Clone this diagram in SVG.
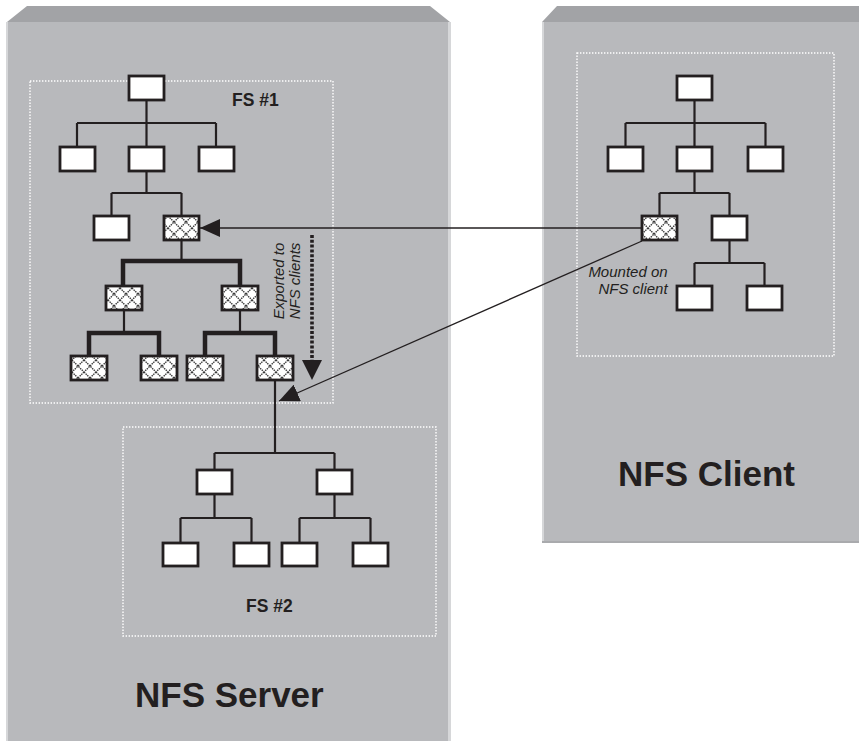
<svg xmlns="http://www.w3.org/2000/svg" width="859" height="741" viewBox="0 0 859 741">
<defs>
<pattern id="hatch" patternUnits="userSpaceOnUse" width="12" height="12">
<rect width="12" height="12" fill="#fff"/>
<path d="M0,0 L12,12 M12,0 L0,12" stroke="#3a3a3a" stroke-width="1.4" stroke-dasharray="1.5,0.8"/>
</pattern>
<marker id="ah" markerUnits="userSpaceOnUse" viewBox="0 0 20 18" refX="20" refY="9" markerWidth="20" markerHeight="18" orient="auto">
<path d="M0,0 L20,9 L0,18 z" fill="#231f20"/>
</marker>
</defs>
<style>
.body{fill:#b8b9bc}
.bevel{fill:#a2a3a6}
.strip{fill:#d6d7d9}
.frame{fill:none;stroke:#fff;stroke-width:1.4;stroke-dasharray:1.4,1.6}
.box{fill:#fff;stroke:#231f20;stroke-width:2.8}
.hbox{fill:url(#hatch);stroke:#231f20;stroke-width:2.8}
.thin{fill:none;stroke:#231f20;stroke-width:2.2}
.thick{fill:none;stroke:#231f20;stroke-width:4.5}
.conn{fill:none;stroke:#231f20;stroke-width:1.3}
.dots{fill:none;stroke:#231f20;stroke-width:3.6;stroke-dasharray:3,1.8}
.head{fill:#231f20}
.lbl{font-family:"Liberation Sans",Arial,sans-serif;fill:#231f20}
.big{font-size:35px;font-weight:bold}
.fs{font-size:17.5px;font-weight:bold}
.it{font-size:15px;font-style:italic}
</style>

<g id="nfs-server">
<rect class="body" x="6" y="22" width="445" height="719"/>
<polygon class="bevel" points="7,22 27,6 430,6 450,22"/>
<rect class="strip" x="6" y="22" width="2" height="719"/>
<rect class="strip" x="448" y="22" width="3" height="719"/>
<text class="lbl big" x="135" y="707">NFS Server</text>
</g>

<g id="nfs-client">
<rect class="body" x="542" y="22" width="317" height="521"/>
<polygon class="bevel" points="542,22 557,6 859,6 859,22"/>
<rect class="strip" x="542" y="22" width="2" height="521"/>
<rect x="542" y="541" width="317" height="2" fill="#a9aaad"/>
<text class="lbl big" x="618" y="486">NFS Client</text>
</g>

<g id="fs1">
<rect class="frame" x="30" y="81" width="303" height="322"/>
<text class="lbl fs" x="232" y="106">FS #1</text>
</g>
<g id="fs2">
<rect class="frame" x="123" y="427" width="313" height="209"/>
<text class="lbl fs" x="246" y="612">FS #2</text>
</g>
<g id="client-fs">
<rect class="frame" x="577" y="53" width="257" height="303"/>
</g>

<g id="connectors">
<path class="thin" d="M146.5,100 V123 M77,123 H216 M77,123 V147 M146.5,123 V147 M216,123 V147"/>
<path class="thin" d="M146.5,171 V193 M111.5,193 H181.5 M111.5,193 V216 M181.5,193 V216"/>
<path class="thin" d="M181.5,240 V261 M124,310 V333 M240,310 V333"/>
<path class="thick" d="M123,286 V261 H240 V286"/>
<path class="thick" d="M89,356 V333 H159 V356"/>
<path class="thick" d="M205,356 V333 H275 V356"/>
<path class="thin" d="M275,380 V453"/>
<path class="thin" d="M214.5,453 H334.5 M214.5,453 V470 M334.5,453 V470"/>
<path class="thin" d="M214.5,494 V518 M180.5,518 H251.5 M180.5,518 V543 M251.5,518 V543"/>
<path class="thin" d="M334.5,494 V518 M299.5,518 H370.5 M299.5,518 V543 M370.5,518 V543"/>
<path class="thin" d="M694.5,100 V123 M625.5,123 H765.5 M625.5,123 V147 M694.5,123 V147 M765.5,123 V147"/>
<path class="thin" d="M694.5,171 V193 M659.5,193 H729.5 M659.5,193 V216 M729.5,193 V216"/>
<path class="thin" d="M729.5,240 V263 M694.5,263 H764.5 M694.5,263 V286 M764.5,263 V286"/>
<line class="conn" x1="642" y1="228" x2="200" y2="228" marker-end="url(#ah)"/>
<line class="conn" x1="642" y1="241" x2="279" y2="401" marker-end="url(#ah)"/>
<line class="dots" x1="312" y1="235" x2="312" y2="362"/>
<polygon class="head" points="302,360 322,360 312,380"/>
</g>

<g id="fs1-nodes">
<rect id="n1" class="box" x="129" y="76" width="35" height="24"/>
<rect id="n2" class="box" x="60" y="147" width="35" height="24"/>
<rect id="n3" class="box" x="129" y="147" width="35" height="24"/>
<rect id="n4" class="box" x="199" y="147" width="35" height="24"/>
<rect id="n5" class="box" x="94" y="216" width="35" height="24"/>
<rect id="n6" class="hbox" x="164" y="216" width="35" height="24"/>
<rect id="n7" class="hbox" x="106" y="286" width="36" height="24"/>
<rect id="n8" class="hbox" x="222" y="286" width="36" height="24"/>
<rect id="n9" class="hbox" x="71" y="356" width="36" height="24"/>
<rect id="n10" class="hbox" x="141" y="356" width="36" height="24"/>
<rect id="n11" class="hbox" x="187" y="356" width="36" height="24"/>
<rect id="n12" class="hbox" x="257" y="356" width="36" height="24"/>
</g>

<g id="fs2-nodes">
<rect id="m1" class="box" x="197" y="470" width="35" height="24"/>
<rect id="m2" class="box" x="317" y="470" width="35" height="24"/>
<rect id="m3" class="box" x="163" y="543" width="35" height="23"/>
<rect id="m4" class="box" x="234" y="543" width="35" height="23"/>
<rect id="m5" class="box" x="282" y="543" width="35" height="23"/>
<rect id="m6" class="box" x="353" y="543" width="35" height="23"/>
</g>

<g id="client-nodes">
<rect id="c1" class="box" x="677" y="76" width="35" height="24"/>
<rect id="c2" class="box" x="608" y="147" width="35" height="24"/>
<rect id="c3" class="box" x="677" y="147" width="35" height="24"/>
<rect id="c4" class="box" x="748" y="147" width="35" height="24"/>
<rect id="c5" class="hbox" x="642" y="216" width="35" height="24"/>
<rect id="c6" class="box" x="712" y="216" width="35" height="24"/>
<rect id="c7" class="box" x="677" y="286" width="35" height="24"/>
<rect id="c8" class="box" x="747" y="286" width="35" height="24"/>
</g>

<g id="labels">
<text class="lbl it" transform="translate(284,281) rotate(-90)" text-anchor="middle">Exported to</text>
<text class="lbl it" transform="translate(300,281) rotate(-90)" text-anchor="middle">NFS clients</text>
<text class="lbl it" x="628" y="277" text-anchor="middle">Mounted on</text>
<text class="lbl it" x="633" y="294" text-anchor="middle">NFS client</text>
</g>
</svg>
